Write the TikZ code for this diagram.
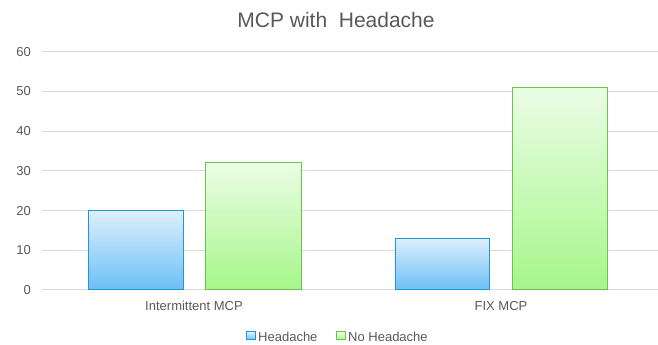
\documentclass[tikz,border=0pt]{standalone}
\usepackage{fontspec}
\setmainfont{Liberation Sans}
\usetikzlibrary{calc}

\definecolor{textgray}{HTML}{595959}
\definecolor{gridgray}{HTML}{D9D9D9}
\definecolor{headline}{HTML}{1E96D8}
\definecolor{headtop}{HTML}{DDEFFC}
\definecolor{headbot}{HTML}{6CBFF5}
\definecolor{nheadline}{HTML}{6AC44A}
\definecolor{nheadtop}{HTML}{EBFDE5}
\definecolor{nheadbot}{HTML}{A6F68A}

\begin{document}
\begin{tikzpicture}[x=1pt, y=1pt,
        lbl/.style={text=textgray, inner sep=0pt, font=\fontsize{13}{15}\selectfont},
        headbar/.style={draw=headline, line width=1pt, top color=headtop, bottom color=headbot},
        nheadbar/.style={draw=nheadline, line width=1pt, top color=nheadtop, bottom color=nheadbot}]
        \useasboundingbox (0,0) rectangle (658,345);

        % value v sits at y = 55 + 3.97 v
        \foreach \v in {0,10,...,60} {
            \coordinate (g\v) at (42,{55+3.97*\v});
            \coordinate (h\v) at (658,{55+3.97*\v});
            \draw[gridgray, line width=1pt] (g\v) -- (h\v);
            \node[lbl, anchor=east] (t\v) at (31,{55+3.97*\v}) {\v};
        }

        \draw[headbar] (88,55) rectangle (183,{55+3.97*20});
        \draw[nheadbar] (205,55) rectangle (301,{55+3.97*32});
        \draw[headbar] (395,55) rectangle (489,{55+3.97*13});
        \draw[nheadbar] (512,55) rectangle (607,{55+3.97*51});

        \node[lbl, anchor=base] (c1) at (194,34) {Intermittent MCP};
        \node[lbl, anchor=base] (c2) at (501,34) {FIX MCP};

        \node[text=textgray, anchor=base, font=\fontsize{21}{25}\selectfont] (title) at (336,317) {MCP with\ \ Headache};

        % legend
        \draw[headbar] (246,5) rectangle (255,13);
        \node[lbl, anchor=base west] (l1) at (258,3.5) {Headache};
        \draw[nheadbar] (336,5) rectangle (345,13);
        \node[lbl, anchor=base west] (l2) at (348,3.5) {No Headache};
    \end{tikzpicture}
\end{document}
